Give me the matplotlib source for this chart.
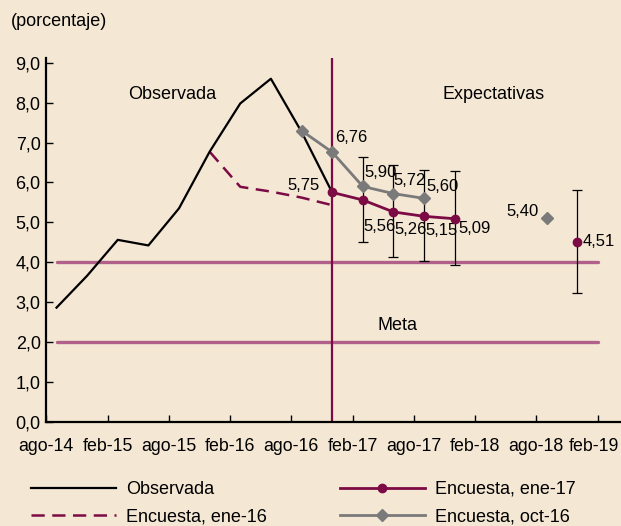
import numpy as np
import matplotlib
matplotlib.use('Agg')
import matplotlib.pyplot as plt
import matplotlib.transforms as mtransforms
from matplotlib import font_manager

# fuentes
names = set(f.name for f in font_manager.fontManager.ttflist)
base_font = 'Liberation Sans' if 'Liberation Sans' in names else 'DejaVu Sans'
narrow_font = 'Liberation Sans Narrow' if 'Liberation Sans Narrow' in names else base_font
plt.rcParams['font.family'] = base_font

# meses del eje: indice 0 = ago-14
month_names = ['ene', 'feb', 'mar', 'abr', 'may', 'jun', 'jul', 'ago', 'sep', 'oct', 'nov', 'dic']
def mi(s):
    m, y = s.split('-')
    return (2000 + int(y) - 2014) * 12 + month_names.index(m) - 7

tick_labels = ['ago-14', 'feb-15', 'ago-15', 'feb-16', 'ago-16', 'feb-17', 'ago-17', 'feb-18', 'ago-18', 'feb-19']

# datos
obs_months = ['sep-14', 'dic-14', 'mar-15', 'jun-15', 'sep-15', 'dic-15', 'mar-16', 'jun-16', 'sep-16', 'dic-16']
obs_vals = [2.86, 3.66, 4.56, 4.42, 5.35, 6.77, 7.98, 8.60, 7.27, 5.75]

e16_months = ['dic-15', 'mar-16', 'jun-16', 'sep-16', 'dic-16']
e16_vals = [6.77, 5.89, 5.77, 5.62, 5.43]

e17_months = ['dic-16', 'mar-17', 'jun-17', 'sep-17', 'dic-17']
e17_vals = [5.75, 5.56, 5.26, 5.15, 5.09]
e17_lbl = ['5,75', '5,56', '5,26', '5,15', '5,09']
e17_far_month = 'dic-18'
e17_far_val = 4.51
e17_far_lbl = '4,51'

o16_months = ['sep-16', 'dic-16', 'mar-17', 'jun-17', 'sep-17']
o16_vals = [7.30, 6.76, 5.90, 5.72, 5.60]
o16_lbl = [None, '6,76', '5,90', '5,72', '5,60']
o16_far_month = 'sep-18'
o16_far_val = 5.12
o16_far_lbl = '5,40'

err_months = ['mar-17', 'jun-17', 'sep-17', 'dic-17', 'dic-18']
err_low = [4.50, 4.12, 4.04, 3.92, 3.22]
err_high = [6.63, 6.44, 6.31, 6.29, 5.82]

meta_lines = [4.0, 2.0]

# colores
bg = '#f4e7d4'
maroon = '#7c0a44'
grey = '#7a7a7a'
mauve = '#b0608a'

fig = plt.figure(figsize=(6.21, 5.26), dpi=100, facecolor=bg)
ax = fig.add_axes([46.3 / 621, 1 - 421.7 / 526, (620 - 46.3) / 621, (421.7 - 58) / 526])
ax.set_facecolor(bg)

x_obs = [mi(m) for m in obs_months]
x_e16 = [mi(m) for m in e16_months]
x_e17 = [mi(m) for m in e17_months]
x_o16 = [mi(m) for m in o16_months]
x_err = np.array([mi(m) for m in err_months])
lo = np.array(err_low)
hi = np.array(err_high)

for v in meta_lines:
    ax.plot([mi('sep-14'), mi('feb-19')], [v, v], color=mauve, lw=2.4, solid_capstyle='round', zorder=1)
ax.axvline(mi('dic-16'), color=maroon, lw=1.6, zorder=2)

ax.errorbar(x_err, (lo + hi) / 2, yerr=(hi - lo) / 2, fmt='none', ecolor='black',
            elinewidth=0.9, capsize=3.5, capthick=0.9, zorder=2)

l_obs, = ax.plot(x_obs, obs_vals, color='black', lw=1.6, zorder=4, label='Observada')
l_e16, = ax.plot(x_e16, e16_vals, color=maroon, lw=1.8, dashes=(5.3, 3), zorder=3, label='Encuesta, ene-16')
l_o16, = ax.plot(x_o16, o16_vals, color=grey, lw=2, marker='D', ms=6.5, zorder=5, label='Encuesta, oct-16')
ax.plot([mi(o16_far_month)], [o16_far_val], color=grey, marker='D', ms=6.5, ls='none', zorder=5)
l_e17, = ax.plot(x_e17, e17_vals, color=maroon, lw=2, marker='o', ms=6, zorder=6, label='Encuesta, ene-17')
ax.plot([mi(e17_far_month)], [e17_far_val], color=maroon, marker='o', ms=6, ls='none', zorder=6)

# etiquetas de valores (desplazamientos en pixeles)
kw = dict(textcoords='offset pixels', fontsize=12, family=narrow_font, va='center')
e17_off = [(-12, 7, 'right'), (1, -27, 'left'), (1, -18, 'left'), (1.5, -14, 'left'), (3.5, -10, 'left')]
for xm, v, t, (dx, dy, ha) in zip(x_e17, e17_vals, e17_lbl, e17_off):
    ax.annotate(t, (xm, v), xytext=(dx, dy), ha=ha, **kw)
o16_off = [None, (2.5, 14.5), (1.5, 13.5), (0, 13), (2, 12)]
for xm, v, t, off in zip(x_o16, o16_vals, o16_lbl, o16_off):
    if t:
        ax.annotate(t, (xm, v), xytext=off, ha='left', **kw)
ax.annotate(o16_far_lbl, (mi(o16_far_month), o16_far_val), xytext=(-8, 6), ha='right', **kw)
ax.annotate(e17_far_lbl, (mi(e17_far_month), e17_far_val), xytext=(5.5, 0), ha='left', **kw)

ax.text(12.3, 8.2, 'Observada', ha='center', va='center', fontsize=13)
ax.text(43.8, 8.2, 'Expectativas', ha='center', va='center', fontsize=13)
ax.text(34.4, 2.4, 'Meta', ha='center', va='center', fontsize=13)

ax.set_xlim(0, 56.2)
ax.set_ylim(0, 9.12)
ax.set_xticks(np.arange(0, 55, 6))
ax.set_xticklabels(tick_labels)
ax.set_yticks(np.arange(0, 9.5, 1.0))
ax.set_yticklabels([('%.1f' % v).replace('.', ',') for v in np.arange(0, 9.5, 1.0)])
ax.tick_params(axis='x', direction='in', length=5, width=1, pad=12, labelsize=12.8)
ax.tick_params(axis='y', direction='in', length=5, width=1, pad=4, labelsize=13)
for s in ['top', 'right']:
    ax.spines[s].set_visible(False)
for s in ['left', 'bottom']:
    ax.spines[s].set_linewidth(1.6)

# ultima etiqueta un poco a la izquierda para que no se corte
last = ax.get_xticklabels()[-1]
last.set_transform(last.get_transform() + mtransforms.ScaledTranslation(-4 / 100, 0, fig.dpi_scale_trans))

fig.text(11 / 621, 1 - 22 / 526, '(porcentaje)', fontsize=13, va='center', ha='left')

fig.legend(handles=[l_obs, l_e16, l_e17, l_o16], ncol=2, loc='upper left',
           bbox_to_anchor=(31 / 621, 1 - 481 / 526), frameon=False, fontsize=13,
           handlelength=4.7, handletextpad=0.55, columnspacing=4.05, labelspacing=0.58,
           borderpad=0, borderaxespad=0, numpoints=1)

plt.savefig('out.png', dpi=100, facecolor=bg)
